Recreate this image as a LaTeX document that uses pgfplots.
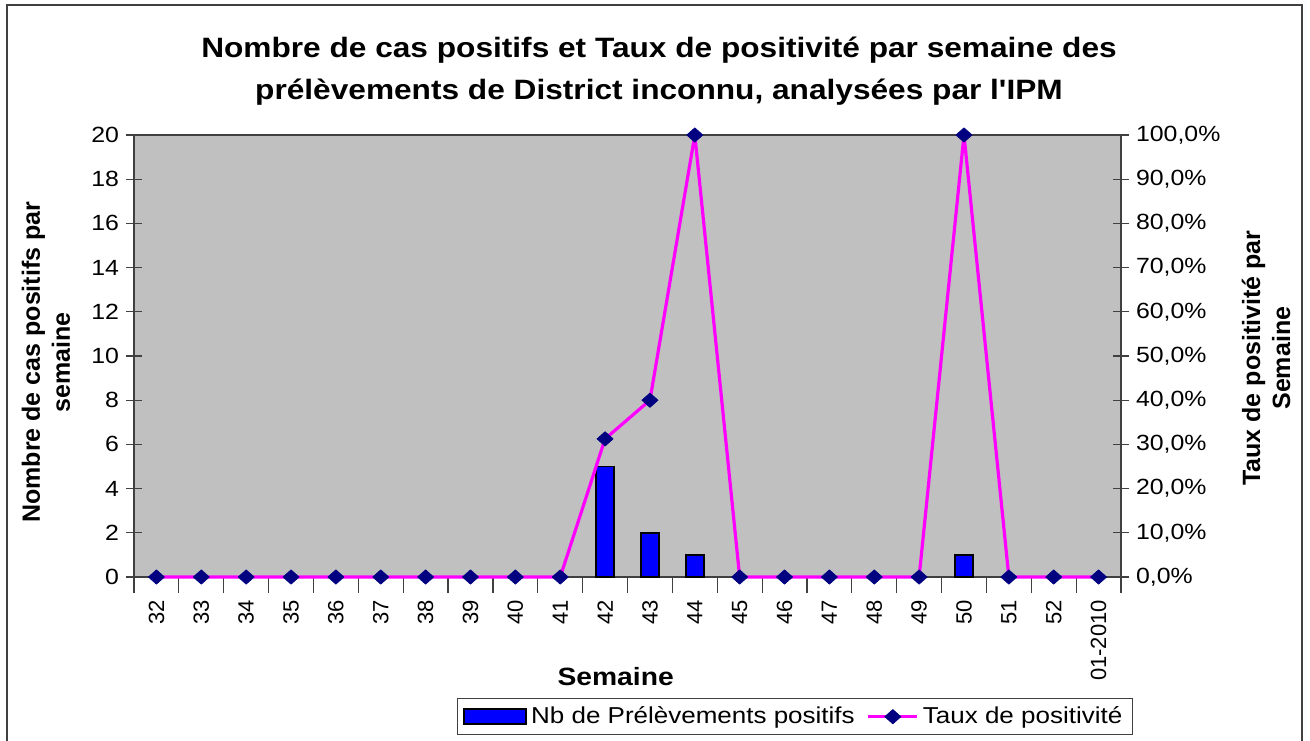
\documentclass[border=0pt]{standalone}
\usepackage{pgfplots}
\pgfplotsset{compat=1.18}
\usepackage{pgfplotstable}
\usepackage{fontspec}
\setmainfont{Liberation Sans}
\newfontfamily\hfont{Liberation Sans}[FakeStretch=1.13]
\definecolor{plotgray}{RGB}{192,192,192}
\definecolor{mag}{RGB}{255,0,255}
\definecolor{navy}{RGB}{0,0,128}
\definecolor{barblue}{RGB}{0,0,255}
\definecolor{axgray}{RGB}{64,64,64}
\pgfplotsset{
  mylineimg/.style={legend image code/.code={\draw[mark repeat=2,mark phase=2,##1] plot coordinates {(0pt,0pt) (12.25pt,0pt) (24.5pt,0pt)};}},
  mybarimg/.style={legend image code/.code={\draw[fill=barblue,draw=black,line width=0.9pt] (0pt,-3.75pt) rectangle (31pt,3.75pt);}},
}

\pgfplotstableread{
x p
0 0
1 0
2 0
3 0
4 0
5 0
6 0
7 0
8 0
9 0
10 31.25
11 40
12 100
13 0
14 0
15 0
16 0
17 0
18 100
19 0
20 0
21 0
}\taux

\begin{document}
\begin{tikzpicture}
\useasboundingbox (0,0) rectangle (655pt,-370pt);
\begin{scope}
\clip (0,0) rectangle (655pt,-370pt);
\draw[line width=1pt, draw=axgray] (3.5pt,-2.5pt) rectangle (651pt,-390pt);
\end{scope}
\node[font=\hfont\bfseries\fontsize{14}{21}\selectfont, align=center] at (329.5pt,-35.5pt)
  {Nombre de cas positifs et Taux de positivité par semaine des\\prélèvements de District inconnu, analysées par l'IPM};

\begin{axis}[
  at={(67pt,-288.5pt)}, anchor=south west, scale only axis,
  width=493.5pt, height=221pt,
  xmin=-0.5, xmax=21.5, ymin=0, ymax=20,
  axis background/.style={fill=plotgray},
  axis line style={draw=axgray, line width=0.8pt},
  xtick={-0.5,0.5,...,21.5},
  xticklabel={\relax},
  extra x ticks={0,...,21},
  extra x tick labels={32,33,34,35,36,37,38,39,40,41,42,43,44,45,46,47,48,49,50,51,52,01-2010},
  extra x tick style={major tick style={draw=none}},
  ytick={0,2,...,20},
  xtick pos=bottom, ytick pos=left,
  tick align=center, xtick align=center, ytick align=center,
  major tick length=8pt,
  tick style={draw=axgray, line width=0.6pt},
  /pgf/number format/assume math mode=true,
  yticklabel style={font=\hfont\fontsize{11}{13}\selectfont},
  xticklabel style={font=\fontsize{11}{13}\selectfont, rotate=90, anchor=east},
  xlabel={Semaine},
  xlabel style={font=\hfont\bfseries\fontsize{12.5}{15}\selectfont, at={(axis description cs:0.488,-0.226)}, anchor=center},
  ylabel={Nombre de cas positifs par\\semaine},
  ylabel style={font=\bfseries\fontsize{12.5}{15}\selectfont, align=center, at={(axis description cs:-0.0892,0.486)}, anchor=center},
  ybar, bar width=9pt,
]
\addplot[fill=barblue, draw=black, line width=0.9pt] coordinates {(10,5) (11,2) (12,1) (18,1)};
\end{axis}

\begin{axis}[
  at={(67pt,-288.5pt)}, anchor=south west, scale only axis,
  width=493.5pt, height=221pt,
  xmin=-0.5, xmax=21.5, ymin=0, ymax=100,
  axis x line=none, axis y line*=right,
  axis line style={draw=axgray, line width=0.8pt},
  ytick={0,10,...,100},
  yticklabels={{0,0\%},{10,0\%},{20,0\%},{30,0\%},{40,0\%},{50,0\%},{60,0\%},{70,0\%},{80,0\%},{90,0\%},{100,0\%}},
  ytick align=center, major tick length=8pt,
  tick style={draw=axgray, line width=0.6pt},
  yticklabel style={font=\hfont\fontsize{11}{13}\selectfont},
  ylabel={Taux de positivité par\\Semaine},
  ylabel style={font=\bfseries\fontsize{12.5}{15}\selectfont, align=center, at={(axis description cs:1.147,0.495)}, anchor=center},
  clip=false,
  legend style={at={(axis description cs:0.327,-0.274)}, anchor=north west,
    legend columns=2, draw=axgray, line width=0.6pt,
    font=\hfont\fontsize{11.5}{14}\selectfont,
    /tikz/every even column/.append style={column sep=4pt}},
]
\addlegendimage{mybarimg}
\addlegendentry{Nb de Prélèvements positifs}
\addplot[mag, line width=1.6pt, line join=round, mark=diamond*, mark size=3.6pt, mark options={fill=navy, draw=navy, line width=0.3pt, xscale=1.5}, mylineimg]
  table[x=x,y=p]{\taux};
\addlegendentry{Taux de positivité}
\end{axis}
\end{tikzpicture}
\end{document}
